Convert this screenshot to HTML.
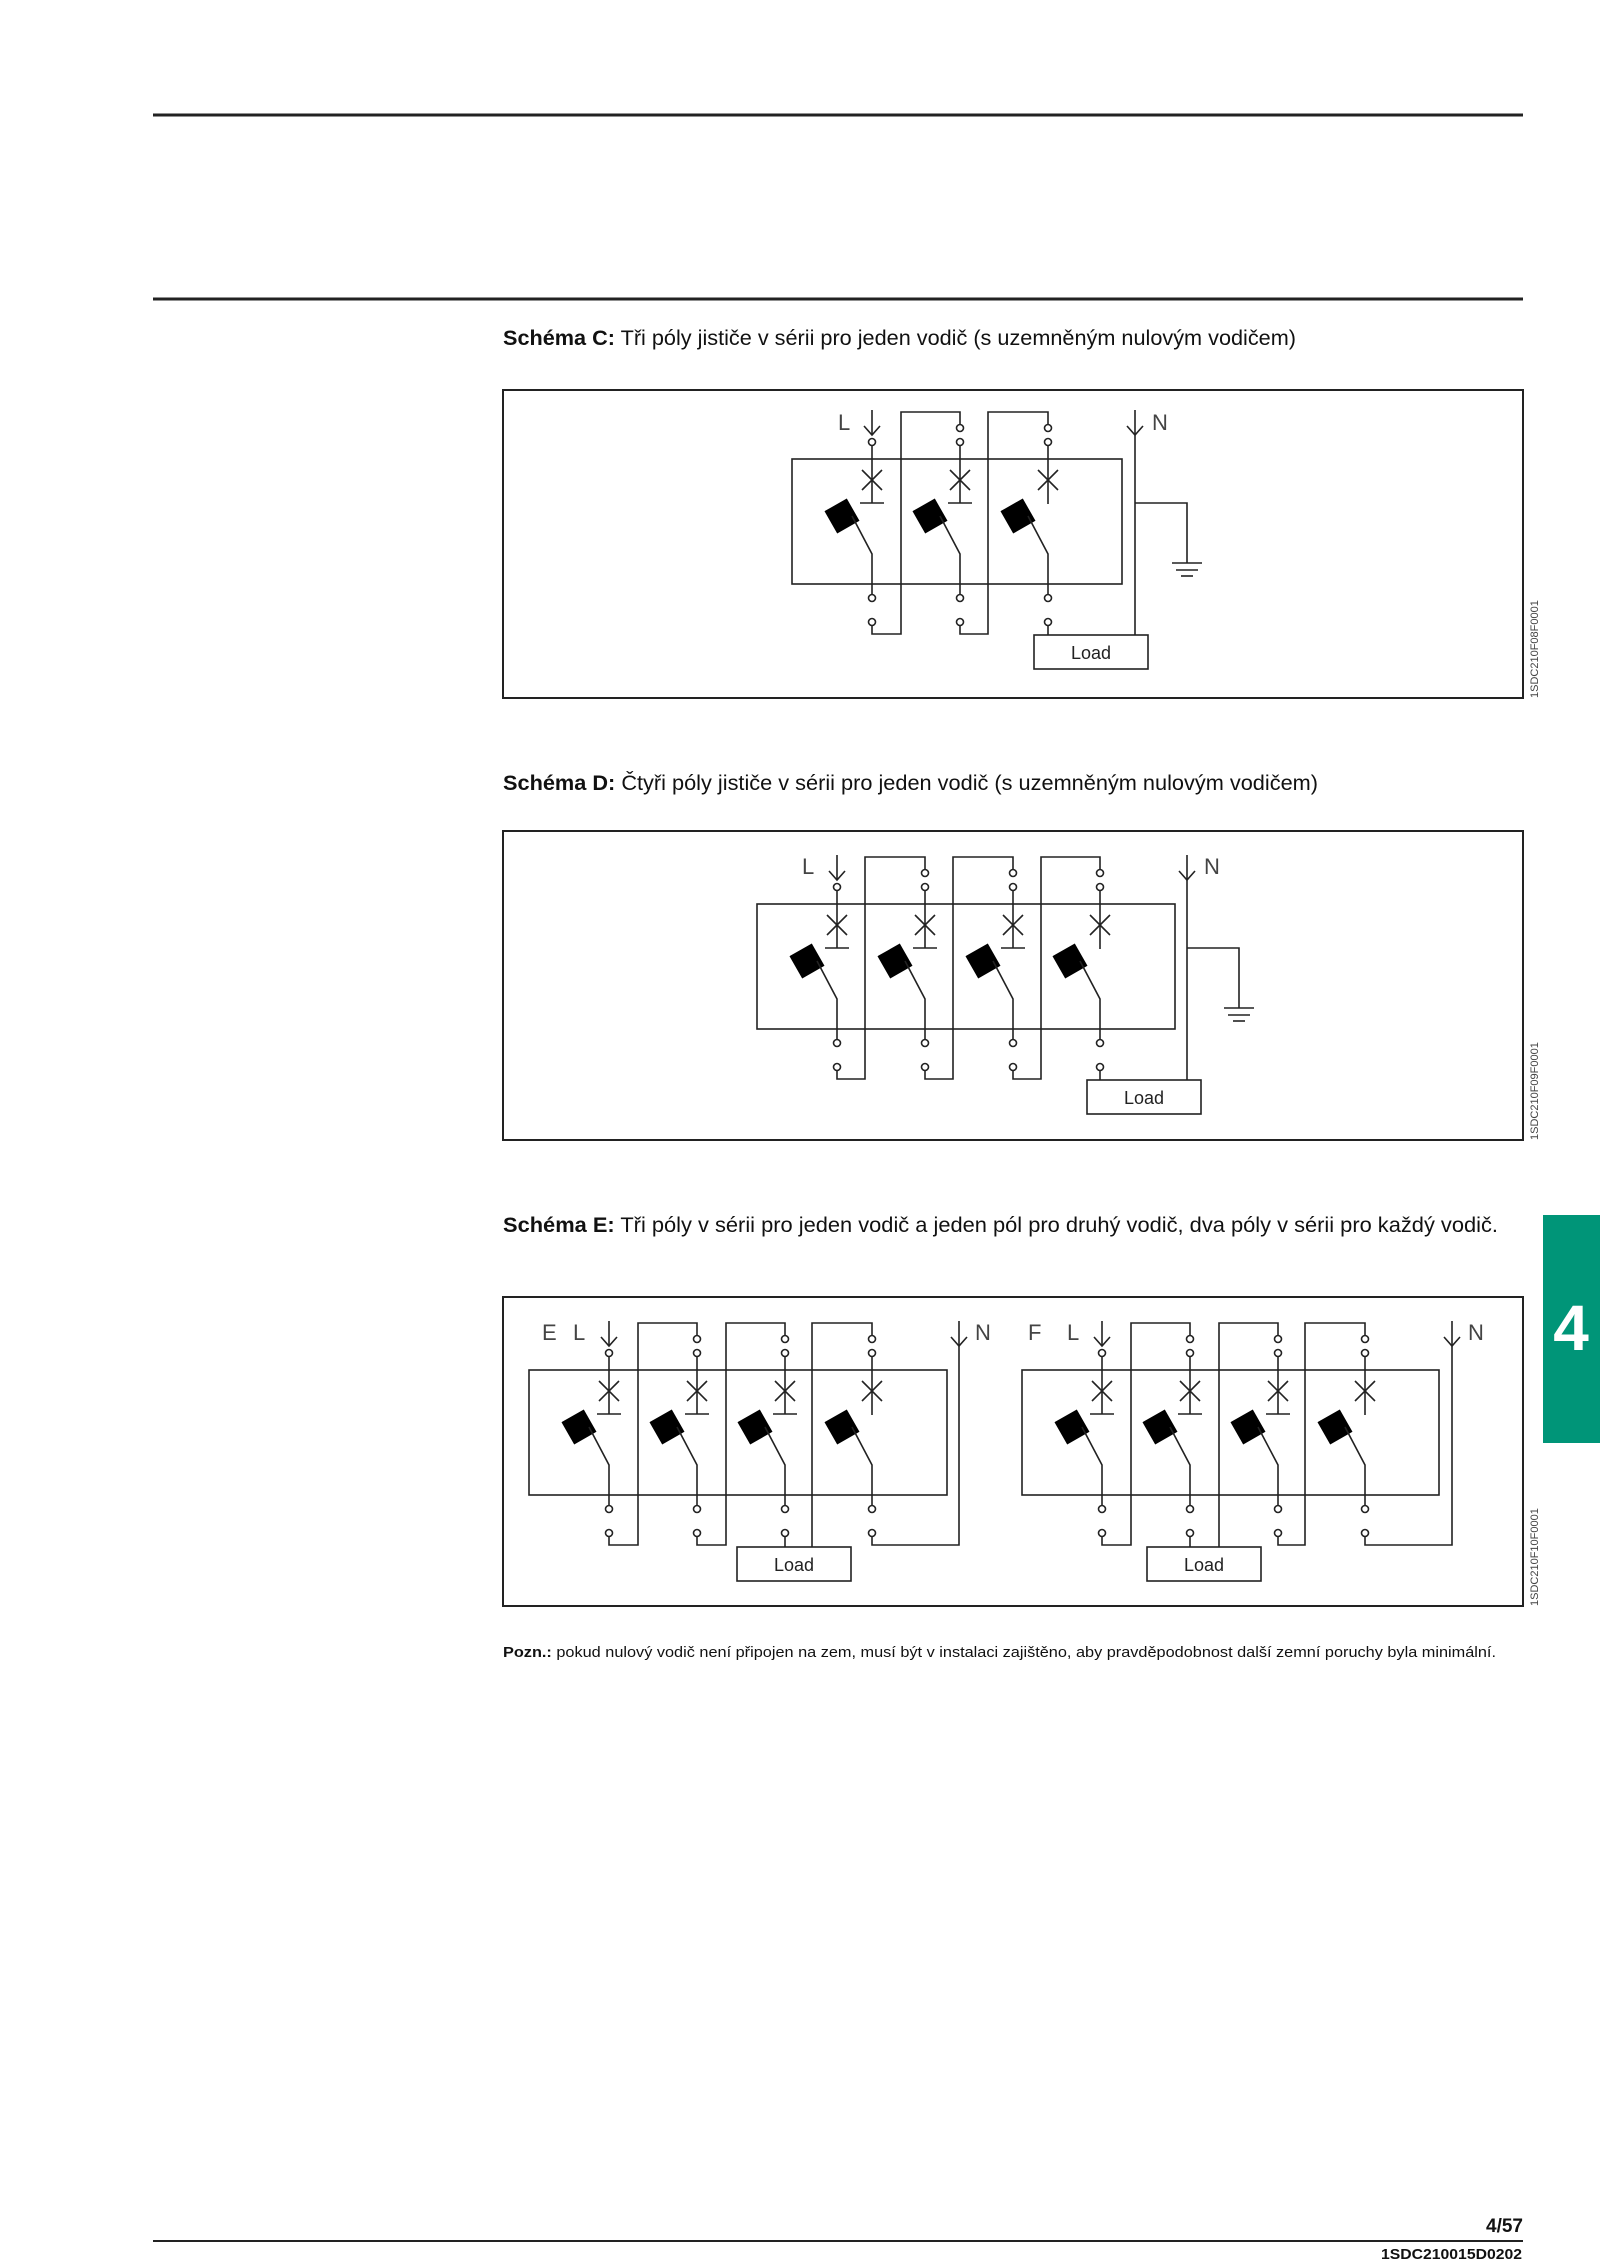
<!DOCTYPE html>
<html><head><meta charset="utf-8"><style>
html,body{margin:0;padding:0;background:#fff}
svg{display:block}
text{font-family:"Liberation Sans",sans-serif}
</style></head><body>
<svg id="s" width="1600" height="2263" viewBox="0 0 1600 2263" xmlns="http://www.w3.org/2000/svg">
<rect width="1600" height="2263" fill="#fff"/>
<line x1="153" y1="115" x2="1523" y2="115" stroke="#222" stroke-width="3"/>
<line x1="153" y1="299" x2="1523" y2="299" stroke="#222" stroke-width="3"/>
<text x="503" y="345" font-size="21" textLength="793" lengthAdjust="spacingAndGlyphs" fill="#111"><tspan font-weight="bold">Schéma C:</tspan> Tři póly jističe v sérii pro jeden vodič (s uzemněným nulovým vodičem)</text>
<text x="503" y="790" font-size="21" textLength="815" lengthAdjust="spacingAndGlyphs" fill="#111"><tspan font-weight="bold">Schéma D:</tspan> Čtyři póly jističe v sérii pro jeden vodič (s uzemněným nulovým vodičem)</text>
<text x="503" y="1232" font-size="21" textLength="995" lengthAdjust="spacingAndGlyphs" fill="#111"><tspan font-weight="bold">Schéma E:</tspan> Tři póly v sérii pro jeden vodič a jeden pól pro druhý vodič, dva póly v sérii pro každý vodič.</text>
<text x="503" y="1657" font-size="15" textLength="993" lengthAdjust="spacingAndGlyphs" fill="#111"><tspan font-weight="bold">Pozn.:</tspan> pokud nulový vodič není připojen na zem, musí být v instalaci zajištěno, aby pravděpodobnost další zemní poruchy byla minimální.</text>
<g fill="none" stroke="#222" stroke-width="2">
<rect x="503" y="390" width="1020" height="308"/>
<rect x="503" y="831" width="1020" height="309"/>
<rect x="503" y="1297" width="1020" height="309"/>
</g>
<g id="g" fill="none" stroke="#222" stroke-width="1.6"></g>
<g font-size="22" fill="#444">
<text x="838" y="430">L</text><text x="1152" y="430">N</text>
<text x="802" y="874">L</text><text x="1204" y="874">N</text>
<text x="542" y="1340">E</text><text x="573" y="1340">L</text><text x="975" y="1340">N</text>
<text x="1028" y="1340">F</text><text x="1067" y="1340">L</text><text x="1468" y="1340">N</text>
</g>
<g font-size="18" fill="#222" text-anchor="middle">
<text x="1091" y="659">Load</text>
<text x="1144" y="1104">Load</text>
<text x="794" y="1571">Load</text>
<text x="1204" y="1571">Load</text>
</g>
<g font-size="11" fill="#444">
<text transform="translate(1538,698) rotate(-90)">1SDC210F08F0001</text>
<text transform="translate(1538,1140) rotate(-90)">1SDC210F09F0001</text>
<text transform="translate(1538,1606) rotate(-90)">1SDC210F10F0001</text>
</g>
<rect x="1543" y="1215" width="57" height="228" fill="#009578"/>
<text x="1571" y="1350" font-size="64" font-weight="bold" fill="#fff" text-anchor="middle">4</text>
<text x="1523" y="2232" font-size="19" font-weight="bold" text-anchor="end" fill="#111">4/57</text>
<line x1="153" y1="2241" x2="1523" y2="2241" stroke="#222" stroke-width="2"/>
<text x="1381" y="2259" font-size="15" font-weight="bold" textLength="141" lengthAdjust="spacingAndGlyphs" fill="#111">1SDC210015D0202</text>
</svg>
<script>
var g=document.getElementById('g'),NS='http://www.w3.org/2000/svg';
function el(n,a){var e=document.createElementNS(NS,n);for(var k in a)e.setAttribute(k,a[k]);g.appendChild(e);return e;}
function L(x1,y1,x2,y2){el('line',{x1:x1,y1:y1,x2:x2,y2:y2});}
function P(pts){el('polyline',{points:pts.map(function(p){return p.join(',')}).join(' ')});}
function C(x,y){el('circle',{cx:x,cy:y,r:3.5,fill:'#fff'});}
function arrow(x,T){L(x,T-2,x,T+23);P([[x-8,T+14],[x,T+23],[x+8,T+14]]);}
function pole(x,T,first,bar){
 if(first){arrow(x,T);}else{C(x,T+16);}
 C(x,T+30);
 L(x,T+33.5,x,bar?T+91:T+92);
 L(x-10,T+58,x+10,T+78);L(x+10,T+58,x-10,T+78);
 if(bar)L(x-12,T+91,x+12,T+91);
 var cx=x-30,cy=T+104,s=12,a=-0.52,ca=Math.cos(a),sa=Math.sin(a),pts=[];
 [[-1,-1],[1,-1],[1,1],[-1,1]].forEach(function(p){pts.push((cx+(p[0]*ca-p[1]*sa)*s).toFixed(1)+','+(cy+(p[0]*sa+p[1]*ca)*s).toFixed(1));});
 el('polygon',{points:pts.join(' '),fill:'#000',stroke:'#000'});
 P([[x-20,T+104],[x,T+142],[x,T+182.5]]);
 C(x,T+186);C(x,T+210);
}
function box(x1,x2,T){el('rect',{x:x1,y:T+47,width:x2-x1,height:125});}
function loop(px,wx,nx,T){P([[px,T+213.5],[px,T+222],[wx,T+222],[wx,T],[nx,T],[nx,T+12.5]]);}
function ground(nx,T){P([[nx,T+91],[nx+52,T+91],[nx+52,T+151]]);var gx=nx+52;L(gx-15,T+151,gx+15,T+151);L(gx-11,T+158,gx+11,T+158);L(gx-6,T+164,gx+6,T+164);}
function load(x1,x2,T){el('rect',{x:x1,y:T+223,width:x2-x1,height:34,fill:'#fff'});}
(function(){var T=412,p=[872,960,1048];box(792,1122,T);
p.forEach(function(x,i){pole(x,T,i==0,i<2);});
loop(872,901,960,T);loop(960,988,1048,T);
L(1048,T+213.5,1048,T+223);load(1034,1148,T);
arrow(1135,T);L(1135,T+23,1135,T+223);ground(1135,T);})();
(function(){var T=857,p=[837,925,1013,1100];box(757,1175,T);
p.forEach(function(x,i){pole(x,T,i==0,i<3);});
loop(837,865,925,T);loop(925,953,1013,T);loop(1013,1041,1100,T);
L(1100,T+213.5,1100,T+223);load(1087,1201,T);
arrow(1187,T);L(1187,T+23,1187,T+223);ground(1187,T);})();
(function(){var T=1323,p=[609,697,785,872];box(529,947,T);
p.forEach(function(x,i){pole(x,T,i==0,i<3);});
loop(609,638,697,T);loop(697,726,785,T);
L(785,T+213.5,785,T+224);P([[812,T+224],[812,T],[872,T],[872,T+12.5]]);
load(737,851,T+1);
P([[872,T+213.5],[872,T+222],[959,T+222],[959,T+23]]);arrow(959,T);})();
(function(){var T=1323,p=[1102,1190,1278,1365];box(1022,1439,T);
p.forEach(function(x,i){pole(x,T,i==0,i<3);});
loop(1102,1131,1190,T);loop(1278,1305,1365,T);
L(1190,T+213.5,1190,T+224);P([[1219,T+224],[1219,T],[1278,T],[1278,T+12.5]]);
load(1147,1261,T+1);
P([[1365,T+213.5],[1365,T+222],[1452,T+222],[1452,T+23]]);arrow(1452,T);})();
</script>
</body></html>
